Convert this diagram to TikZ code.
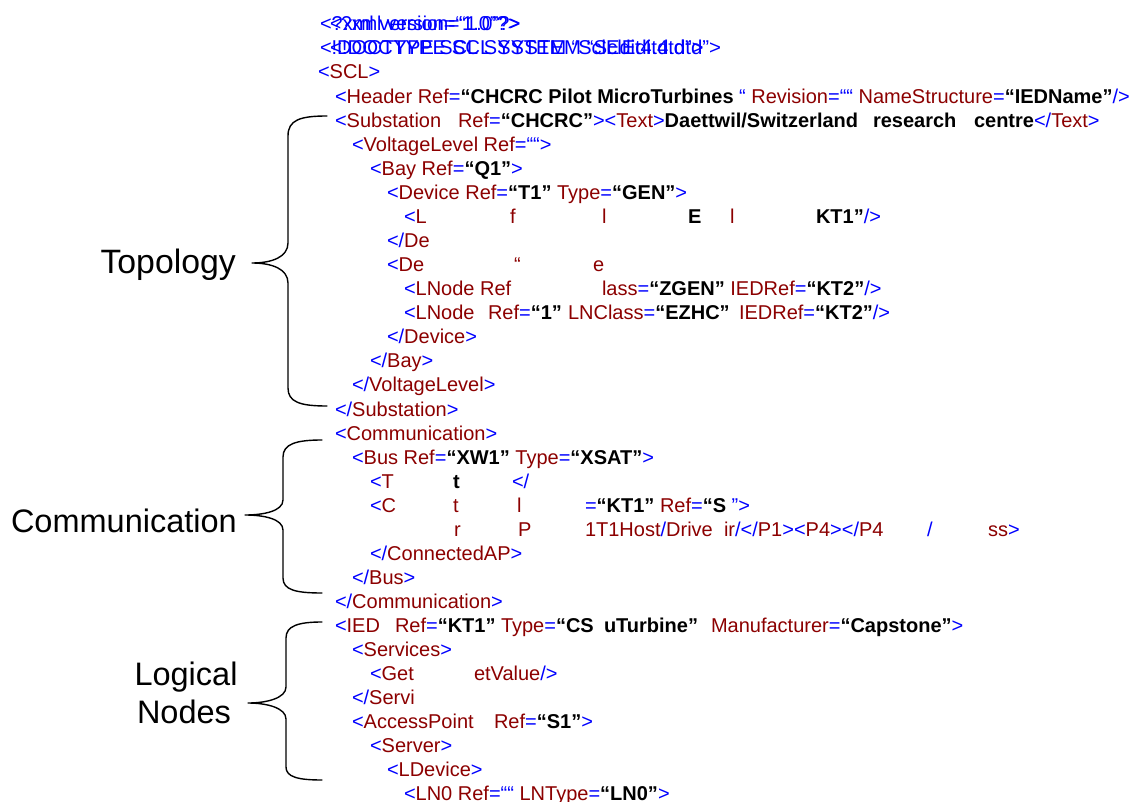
\documentclass[tikz,border=0pt]{standalone}
\usepackage{fontspec}
\setmainfont{Liberation Sans}
\definecolor{xblue}{HTML}{0000FF}
\definecolor{xred}{HTML}{8C0000}
\newcommand\bl[1]{\textcolor{xblue}{#1}}
\newcommand\rd[1]{\textcolor{xred}{#1}}
\newcommand\bk[1]{\textcolor{black}{\bfseries #1}}
\tikzset{
  frag/.style={anchor=base west, inner sep=0pt, outer sep=0pt, font=\fontsize{20}{24}\selectfont},
  label/.style={inner sep=0pt, font=\fontsize{32.5}{36}\selectfont, align=center},
  brace/.style={line width=1.4pt, black, line cap=round, line join=round}
}
\begin{document}
\begin{tikzpicture}[x=1pt, y=-1pt]
\useasboundingbox (0,0) rectangle (1129,802);
\fill[white] (0,0) rectangle (1129,802);

% prolog lines (printed twice, overlapping)
\node[frag, text=xblue] (l1a) at (320,31) {<?xml version=“1.0”?>};
\node[frag, text=xblue, xscale=0.955] (l1b) at (330,31) {<?xml version=“1.0”?>};
\node[frag, text=xblue] (l2a) at (320,55) {<!DOCTYPE SCL SYSTEM “SclEdit4.dtd”>};
\node[frag, text=xblue, xscale=1.02] (l2b) at (330,55) {<!DOCTYPE SCL SYSTEM “SclEdit4.dtd”>};

\node[frag] (l3) at (318,79) {\bl{<}\rd{SCL}\bl{>}};
\node[frag] (l4) at (335,103.2) {\bl{<}\rd{Header Ref}\bl{=}\bk{“CHCRC Pilot MicroTurbines} \bl{“ }\rd{Revision}\bl{=““ }\rd{NameStructure}\bl{=}\bk{“IEDName”}\bl{/>}};

% substation
\node[frag] (l5a) at (335,127.2) {\bl{<}\rd{Substation}};
\node[frag] (l5b) at (458,127.2) {\rd{Ref}\bl{=}\bk{“CHCRC”}\bl{><}\rd{Text}\bl{>}\bk{Daettwil/Switzerland}};
\node[frag] (l5c) at (873,127.2) {\bk{research}};
\node[frag] (l5d) at (974,127.2) {\bk{centre}\bl{</}\rd{Text}\bl{>}};
\node[frag] (l6) at (352,151.3) {\bl{<}\rd{VoltageLevel Ref}\bl{=““>}};
\node[frag] (l7) at (370,175.4) {\bl{<}\rd{Bay Ref}\bl{=}\bk{“Q1”}\bl{>}};
\node[frag] (l8) at (387,199.4) {\bl{<}\rd{Device Ref}\bl{=}\bk{“T1”} \rd{Type}\bl{=}\bk{“GEN”}\bl{>}};
\node[frag] (l9a) at (404,223.5) {\bl{<}\rd{L}};
\node[frag] (l9b) at (510,223.5) {\rd{f}};
\node[frag] (l9c) at (602,223.5) {\rd{l}};
\node[frag] (l9d) at (688,223.5) {\bk{E}};
\node[frag] (l9e) at (730,223.5) {\rd{l}};
\node[frag] (l9f) at (816,223.5) {\bk{KT1”}\bl{/>}};
\node[frag] (l10) at (387,247.5) {\bl{</}\rd{De}};
\node[frag] (l11a) at (387,271.6) {\bl{<}\rd{De}};
\node[frag] (l11b) at (514,271.6) {\rd{“}};
\node[frag] (l11c) at (593,271.6) {\rd{e}};
\node[frag] (l12a) at (404,295.7) {\bl{<}\rd{LNode Ref}};
\node[frag] (l12b) at (602,295.7) {\rd{lass}\bl{=}\bk{“ZGEN”} \rd{IEDRef}\bl{=}\bk{“KT2”}\bl{/>}};
\node[frag] (l13a) at (404,319.7) {\bl{<}\rd{LNode}};
\node[frag] (l13b) at (488,319.7) {\rd{Ref}\bl{=}\bk{“1”}};
\node[frag] (l13c) at (568,319.7) {\rd{LNClass}\bl{=}\bk{“EZHC”}};
\node[frag] (l13d) at (739,319.7) {\rd{IEDRef}\bl{=}\bk{“KT2”}\bl{/>}};
\node[frag] (l14) at (387,343.8) {\bl{</}\rd{Device}\bl{>}};
\node[frag] (l15) at (370,367.8) {\bl{</}\rd{Bay}\bl{>}};
\node[frag] (l16) at (352,391.9) {\bl{</}\rd{VoltageLevel}\bl{>}};
\node[frag] (l17) at (335,416.0) {\bl{</}\rd{Substation}\bl{>}};

% communication
\node[frag] (l18) at (335,440.0) {\bl{<}\rd{Communication}\bl{>}};
\node[frag] (l19) at (352,464.1) {\bl{<}\rd{Bus Ref}\bl{=}\bk{“XW1”} \rd{Type}\bl{=}\bk{“XSAT”}\bl{>}};
\node[frag] (l20a) at (370,488.1) {\bl{<}\rd{T}};
\node[frag] (l20b) at (453,488.1) {\bk{t}};
\node[frag] (l20c) at (512,488.1) {\bl{</}};
\node[frag] (l21a) at (370,512.2) {\bl{<}\rd{C}};
\node[frag] (l21b) at (453,512.2) {\rd{t}};
\node[frag] (l21c) at (517,512.2) {\rd{l}};
\node[frag] (l21d) at (585,512.2) {\bl{=}\bk{“KT1”} \rd{Ref}\bl{=}\bk{“S} \bl{”>}};
\node[frag] (l22a) at (454,536.3) {\rd{r}};
\node[frag] (l22b) at (518,536.3) {\rd{P}};
\node[frag] (l22c) at (585,536.3) {\rd{1T1Host}\bl{/}\rd{Drive}};
\node[frag] (l22d) at (724,536.3) {\rd{ir}\bl{/</}\rd{P1}\bl{><}\rd{P4}\bl{></}\rd{P4}};
\node[frag] (l22e) at (927,536.3) {\bl{/}};
\node[frag] (l22f) at (988,536.3) {\rd{ss}\bl{>}};
\node[frag] (l23) at (370,560.3) {\bl{</}\rd{ConnectedAP}\bl{>}};
\node[frag] (l24) at (352,584.4) {\bl{</}\rd{Bus}\bl{>}};
\node[frag] (l25) at (335,608.4) {\bl{</}\rd{Communication}\bl{>}};

% IED
\node[frag] (l26a) at (335,632.5) {\bl{<}\rd{IED}};
\node[frag] (l26b) at (395,632.5) {\rd{Ref}\bl{=}\bk{“KT1”}};
\node[frag] (l26c) at (501,632.5) {\rd{Type}\bl{=}\bk{“CS}};
\node[frag] (l26d) at (604,632.5) {\bk{uTurbine”}};
\node[frag] (l26e) at (711,632.5) {\rd{Manufacturer}\bl{=}\bk{“Capstone”}\bl{>}};
\node[frag] (l27) at (352,656.6) {\bl{<}\rd{Services}\bl{>}};
\node[frag] (l28a) at (370,680.6) {\bl{<}\rd{Get}};
\node[frag] (l28b) at (474,680.6) {\rd{etValue}\bl{/>}};
\node[frag] (l29) at (352,704.7) {\bl{</}\rd{Servi}};
\node[frag] (l30a) at (352,728.7) {\bl{<}\rd{AccessPoint}};
\node[frag] (l30b) at (494,728.7) {\rd{Ref}\bl{=}\bk{“S1”}\bl{>}};
\node[frag] (l31) at (370,752.8) {\bl{<}\rd{Server}\bl{>}};
\node[frag] (l32) at (387,776.9) {\bl{<}\rd{LDevice}\bl{>}};
\node[frag] (l33) at (404,800) {\bl{<}\rd{LN0 Ref}\bl{=““} \rd{LNType}\bl{=}\bk{“LN0”}\bl{>}};

% section labels
\node[label, anchor=base east, font=\fontsize{33.8}{36}\selectfont] (topo) at (236,273) {Topology};
\node[label, anchor=base east] (comm) at (237,532) {Communication};
\node[label, anchor=base] (logi) at (186,685) {Logical};
\node[label, anchor=base] (nodes) at (184,723) {Nodes};

% braces
\draw[brace] (327,116) .. controls (300,116) and (288,120) .. (288,136)
  -- (288,243) .. controls (288,257) and (272,263) .. (252,263)
  .. controls (272,263) and (288,269) .. (288,283)
  -- (288,388) .. controls (288,402) and (300,406) .. (327,406);
\draw[brace] (322,440) .. controls (296,440) and (283,444) .. (283,457)
  -- (283,500) .. controls (283,511) and (264,515) .. (245,515)
  .. controls (264,515) and (283,519) .. (283,530)
  -- (283,578) .. controls (283,590) and (296,593) .. (322,593);
\draw[brace] (322,622) .. controls (298,622) and (286,626) .. (286,638)
  -- (286,687) .. controls (286,698) and (267,703) .. (248,703)
  .. controls (267,703) and (286,708) .. (286,719)
  -- (286,767) .. controls (286,777) and (298,780) .. (322,780);
\end{tikzpicture}
\end{document}
